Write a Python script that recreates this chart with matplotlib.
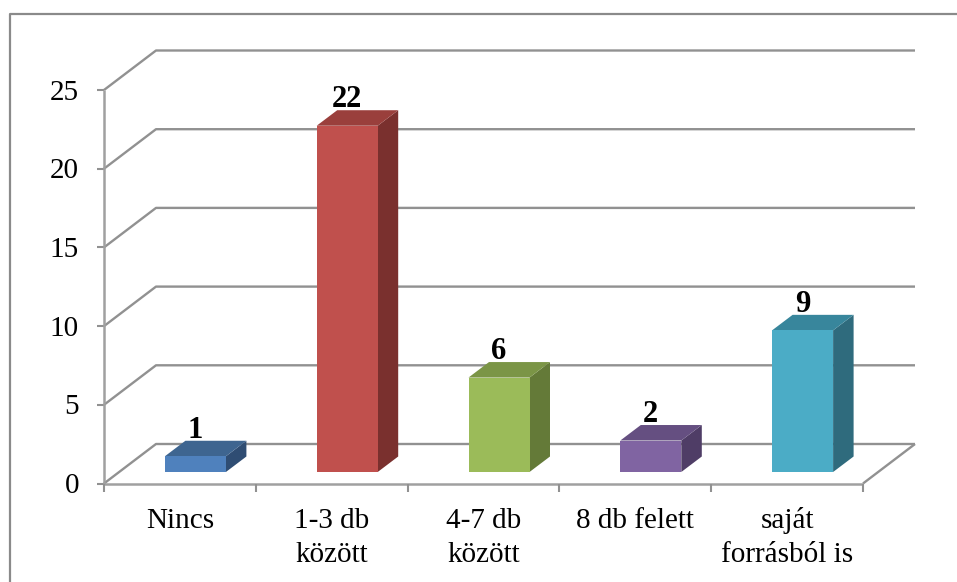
import matplotlib
matplotlib.use("Agg")
import matplotlib.pyplot as plt
from matplotlib.patches import Polygon
from matplotlib.lines import Line2D

categories = ["Nincs", "1-3 db\nközött", "4-7 db\nközött", "8 db felett", "saját\nforrásból is"]
values = [1, 22, 6, 2, 9]
y_ticks = [0, 5, 10, 15, 20, 25]
front_colors = ["#4F81BD", "#C0504D", "#9BBB59", "#8064A2", "#4BACC6"]
top_colors = ["#3E6590", "#9A3F3C", "#7B9546", "#654F81", "#38869C"]
side_colors = ["#2F4D73", "#7A302E", "#647A38", "#4F3D66", "#2F6B7D"]

W, H = 957, 582
AX_L, AX_R, AX_T, AX_B = 104, 863, 90, 483.5
plt.rcParams["font.family"] = "Liberation Serif"

fig = plt.figure(figsize=(W / 100, H / 100), dpi=100, facecolor="white")
ax = fig.add_axes([AX_L / W, 1 - AX_B / H, (AX_R - AX_L) / W, (AX_B - AX_T) / H])
ax.set_xlim(0, len(categories))
ax.set_ylim(0, 25)
ax.axis("off")

px = (AX_R - AX_L) / len(categories)
py = (AX_B - AX_T) / 25
wall_dx, wall_dy = 52 / px, 39.5 / py
bar_dx, bar_dy = 20.5 / px, 15.5 / py
inset_dx = 15.5 / px
bar_w = 61 / px
GRID = "#919191"


def line(xs, ys, lw=2.0, color=GRID, z=1, clip=False):
    ax.add_line(Line2D(xs, ys, color=color, lw=lw, zorder=z, clip_on=clip,
                       solid_capstyle="butt"))


# frame of the picture (left and top only)
fig.add_artist(Line2D([10 / W, 10 / W, 1], [0, 1 - 14 / H, 1 - 14 / H],
                      color="#8A8A8A", lw=1.6))

# walls
n = len(categories)
for t in y_ticks:
    line([0, wall_dx, n + wall_dx], [t, t + wall_dy, t + wall_dy], lw=1.7)
    line([-7 / px, 0], [t, t], lw=1.5)
    ax.text(-25 / px, t - 2.5 / py, str(t), ha="right", va="center", fontsize=21, color="black")
line([n, n + wall_dx], [0, wall_dy], lw=1.7)
line([0, 0], [0, 25], lw=1.8, color="#A0A0A0")
line([0, n], [0, 0], lw=1.8, color="#A0A0A0")
for i in range(n + 1):
    line([i, i], [0, -8 / py], lw=1.5)

# bars
for i, (v, f, t, s) in enumerate(zip(values, front_colors, top_colors, side_colors)):
    x0 = i + 0.5 - bar_w / 2 + inset_dx
    x1 = x0 + bar_w
    y0 = 11.5 / py
    y1 = y0 + v
    ax.add_patch(Polygon([(x1, y0), (x1 + bar_dx, y0 + bar_dy), (x1 + bar_dx, y1 + bar_dy), (x1, y1)],
                         facecolor=s, edgecolor="none", zorder=3))
    ax.add_patch(Polygon([(x0, y1), (x1, y1), (x1 + bar_dx, y1 + bar_dy), (x0 + bar_dx, y1 + bar_dy)],
                         facecolor=t, edgecolor="none", zorder=3))
    ax.add_patch(Polygon([(x0, y0), (x1, y0), (x1, y1), (x0, y1)],
                         facecolor=f, edgecolor="none", zorder=4))
    ax.text((x0 + x1) / 2, y1 + bar_dy - 4 / py, str(v), ha="center", va="bottom",
            fontsize=22, fontweight="bold", color="black", zorder=5, linespacing=1)

# category labels, one text per line on fixed baselines
for i, c in enumerate(categories):
    for k, part in enumerate(c.split("\n")):
        ax.text(i + 0.5, -(44.5 + 34 * k) / py, part, ha="center", va="baseline", fontsize=21,
                color="black", clip_on=False)

fig.savefig("out.png", dpi=100, facecolor="white")
